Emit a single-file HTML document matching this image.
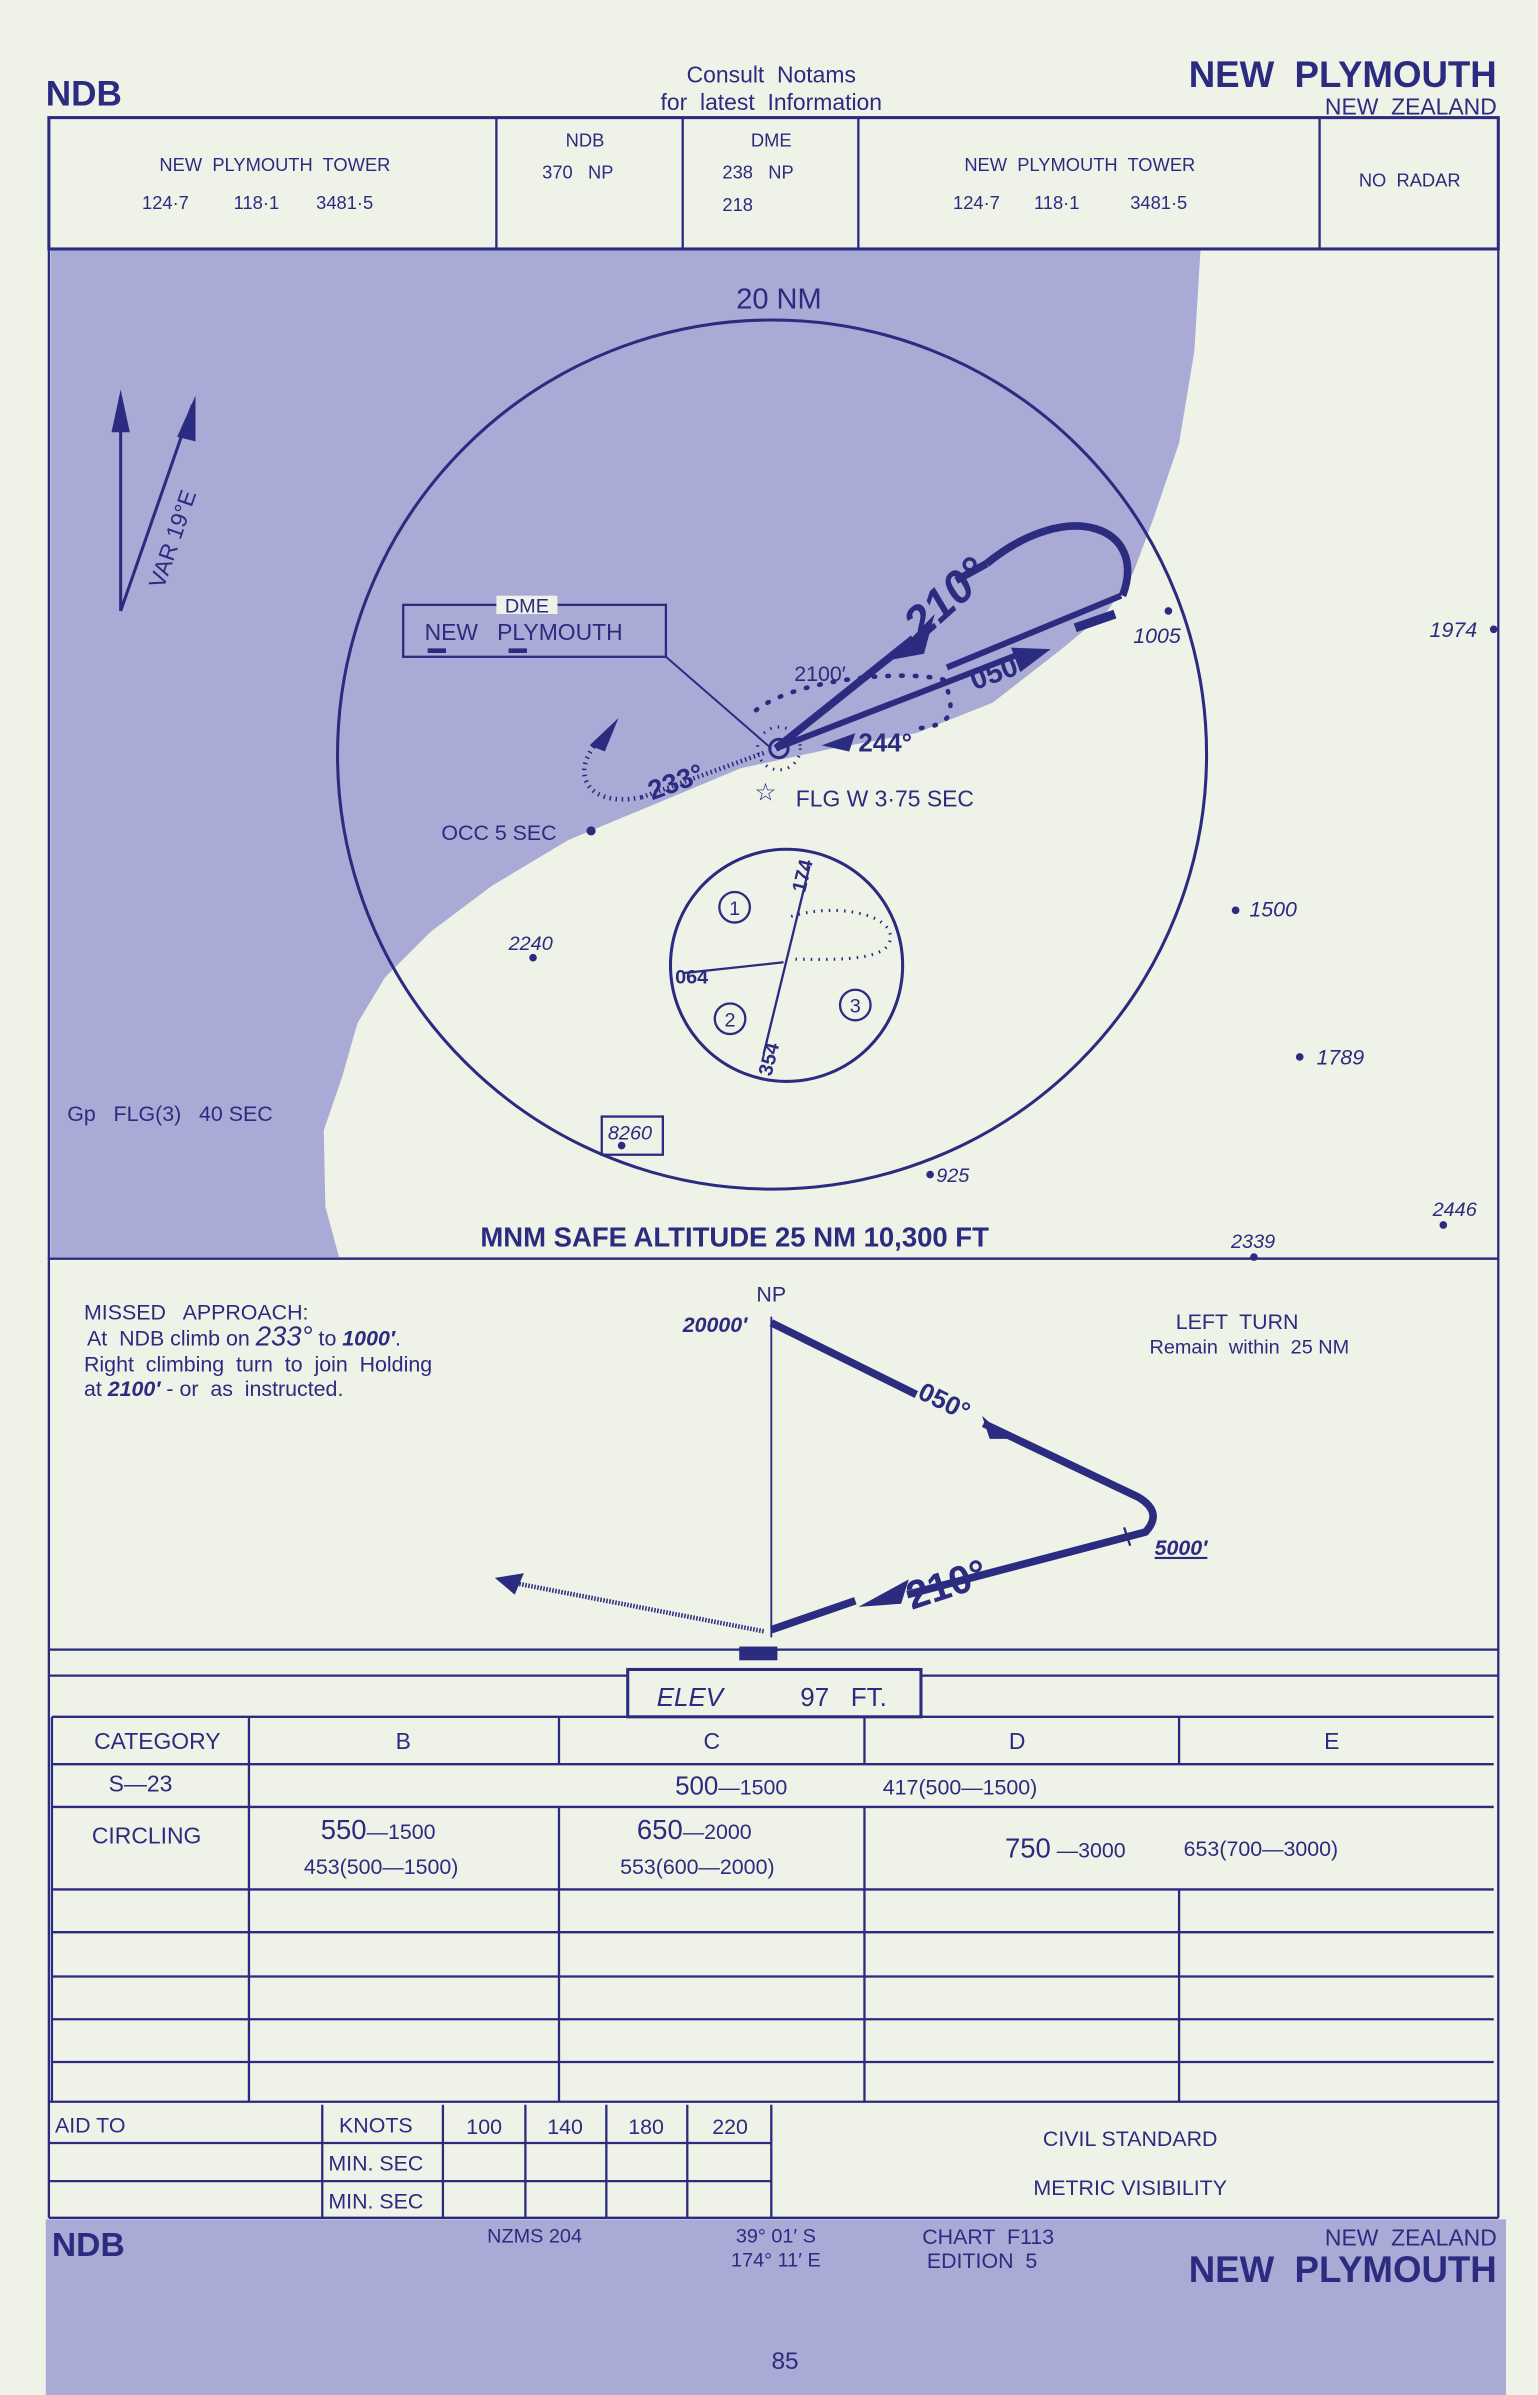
<!DOCTYPE html>
<html><head><meta charset="utf-8"><style>
html,body{margin:0;padding:0;background:#eff2e6}
svg{display:block}
text{font-family:"Liberation Sans",sans-serif;fill:#2b2b80;white-space:pre}
</style></head><body>
<svg width="1538" height="2395" viewBox="0 0 1007 1568" preserveAspectRatio="none" xmlns="http://www.w3.org/2000/svg" xml:space="preserve">
<rect width="1007" height="1568" fill="#eff2e6"/>
<g stroke="#2b2b80" fill="none">
<text x="30" y="69" font-size="23" font-weight="bold" stroke="none">NDB</text>
<text x="505" y="54" font-size="15" text-anchor="middle" stroke="none">Consult  Notams</text>
<text x="505" y="72" font-size="15" text-anchor="middle" stroke="none">for  latest  Information</text>
<text x="980" y="57" font-size="24" font-weight="bold" text-anchor="end" stroke="none">NEW  PLYMOUTH</text>
<text x="980" y="75" font-size="15" text-anchor="end" stroke="none">NEW  ZEALAND</text>
<rect x="32" y="77" width="949" height="86" stroke-width="2"/>
<path d="M325 77V163M447 77V163M562 77V163M864 77V163" stroke-width="1.5"/>
<g stroke="none" font-size="12">
<text x="180" y="112" text-anchor="middle">NEW  PLYMOUTH  TOWER</text>
<text x="93" y="137">124·7</text><text x="153" y="137">118·1</text><text x="207" y="137">3481·5</text>
<text x="383" y="96" text-anchor="middle">NDB</text>
<text x="355" y="117">370   NP</text>
<text x="505" y="96" text-anchor="middle">DME</text>
<text x="473" y="117">238   NP</text><text x="473" y="138">218</text>
<text x="707" y="112" text-anchor="middle">NEW  PLYMOUTH  TOWER</text>
<text x="624" y="137">124·7</text><text x="677" y="137">118·1</text><text x="740" y="137">3481·5</text>
<text x="923" y="122" text-anchor="middle">NO  RADAR</text>
</g>
<rect x="32" y="163" width="949" height="661" stroke-width="1.5"/>
<polygon fill="#aaaad6" stroke="none" points="33,164 786,164 782,230 772,290 755,340 742,375 725,400 695,425 650,460 600,480 545,490 485,503 425,528 372,550 322,580 282,610 252,640 234,670 224,705 212,740 213,790 222,823 33,823"/>
<circle cx="505.5" cy="494" r="284.5" stroke-width="2"/>
<text x="510" y="202" font-size="19" text-anchor="middle" stroke="none">20 NM</text>
<path d="M79 400V265M79 400L126 265" stroke-width="2"/>
<polygon points="79,255 73,283 85,283" fill="#2b2b80" stroke="none"/>
<polygon points="128,259 116,286 128,289" fill="#2b2b80" stroke="none"/>
<text x="0" y="0" font-size="15" stroke="none" transform="translate(107,386) rotate(-71)">VAR 19°E</text>
<rect x="264" y="396" width="172" height="34" stroke-width="1.5"/>
<rect x="325" y="390" width="40" height="12" fill="#eff2e6" stroke="none"/>
<text x="345" y="401" font-size="13" text-anchor="middle" stroke="none">DME</text>
<text x="278" y="419" font-size="15" stroke="none">NEW   PLYMOUTH</text>
<path d="M280 426h12M333 426h12" stroke-width="3"/>
<path d="M436 430L505 490" stroke-width="1.3"/>
<path d="M508 490L598 418" stroke-width="5"/>
<polygon points="583,432 612,402 605,428" fill="#2b2b80" stroke="none"/>
<path d="M508 490L668 428M620 437L734 390" stroke-width="4"/>
<path d="M704 411L730 402" stroke-width="6"/>
<path d="M646 369C700 325 752 345 735 390" stroke-width="5"/>
<path d="M646 369L626 380" stroke-width="5"/>
<polygon points="688,425 662,424 668,440" fill="#2b2b80" stroke="none"/>
<text x="0" y="0" font-size="30" font-weight="bold" font-style="italic" stroke="none" transform="translate(603,420) rotate(-42)">210°</text>
<text x="0" y="0" font-size="19" font-weight="bold" stroke="none" transform="translate(638,452) rotate(-20)">050°</text>
<text x="520" y="446" font-size="14" stroke="none">2100′</text>
<path d="M495 465C520 445 590 438 618 445 C628 470 620 475 600 477" stroke-width="3" stroke-dasharray="1 8" stroke-linecap="round"/>
<circle cx="510" cy="490" r="6" stroke-width="2"/>
<circle cx="510" cy="490" r="14" stroke-width="2" stroke-dasharray="1 4"/>
<polygon points="538,488 560,480 556,492" fill="#2b2b80" stroke="none"/>
<text x="562" y="492" font-size="17" font-weight="bold" stroke="none">244°</text>
<path d="M500 493L420 522" stroke-width="3" stroke-dasharray="1 2"/>
<path d="M420 522C380 530 370 500 400 478" stroke-width="3" stroke-dasharray="1 3"/>
<polygon points="405,470 386,488 396,492" fill="#2b2b80" stroke="none"/>
<text x="0" y="0" font-size="18" font-weight="bold" stroke="none" transform="translate(427,524) rotate(-20)">233°</text>
<text x="494" y="524" font-size="16" stroke="none">☆</text>
<text x="521" y="528" font-size="15" stroke="none">FLG W 3·75 SEC</text>
<circle cx="387" cy="544" r="3" fill="#2b2b80" stroke="none"/>
<text x="289" y="550" font-size="14" stroke="none">OCC 5 SEC</text>
<text x="742" y="421" font-size="14" font-style="italic" stroke="none">1005</text>
<circle cx="765" cy="400" r="2.5" fill="#2b2b80" stroke="none"/>
<text x="936" y="417" font-size="14" font-style="italic" stroke="none">1974</text>
<circle cx="978" cy="412" r="2.5" fill="#2b2b80" stroke="none"/>
<text x="333" y="622" font-size="13" font-style="italic" stroke="none">2240</text>
<circle cx="349" cy="627" r="2.5" fill="#2b2b80" stroke="none"/>
<text x="818" y="600" font-size="14" font-style="italic" stroke="none">1500</text>
<circle cx="809" cy="596" r="2.5" fill="#2b2b80" stroke="none"/>
<text x="862" y="697" font-size="14" font-style="italic" stroke="none">1789</text>
<circle cx="851" cy="692" r="2.5" fill="#2b2b80" stroke="none"/>
<text x="938" y="796" font-size="13" font-style="italic" stroke="none">2446</text>
<circle cx="945" cy="802" r="2.5" fill="#2b2b80" stroke="none"/>
<text x="806" y="817" font-size="13" font-style="italic" stroke="none">2339</text>
<circle cx="821" cy="823" r="2.5" fill="#2b2b80" stroke="none"/>
<text x="613" y="774" font-size="13" font-style="italic" stroke="none">925</text>
<circle cx="609" cy="769" r="2.5" fill="#2b2b80" stroke="none"/>
<rect x="394" y="731" width="40" height="25" stroke-width="1.5"/>
<text x="398" y="746" font-size="13" font-style="italic" stroke="none">8260</text>
<circle cx="407" cy="750" r="2.5" fill="#2b2b80" stroke="none"/>
<text x="44" y="734" font-size="14" stroke="none">Gp   FLG(3)   40 SEC</text>
<text x="481" y="816" font-size="18" font-weight="bold" text-anchor="middle" stroke="none">MNM SAFE ALTITUDE 25 NM 10,300 FT</text>
<circle cx="515" cy="632" r="76" stroke-width="2"/>
<path d="M530 567L500 690" stroke-width="1.5"/>
<path d="M448 637L513 630" stroke-width="1.5"/>
<path d="M518 600C550 590 590 600 582 618C575 630 540 628 520 628" stroke-width="2" stroke-dasharray="1 4"/>
<circle cx="481" cy="594" r="10" stroke-width="1.5"/><text x="481" y="599" font-size="13" text-anchor="middle" stroke="none">1</text>
<circle cx="478" cy="667" r="10" stroke-width="1.5"/><text x="478" y="672" font-size="13" text-anchor="middle" stroke="none">2</text>
<circle cx="560" cy="658" r="10" stroke-width="1.5"/><text x="560" y="663" font-size="13" text-anchor="middle" stroke="none">3</text>
<text x="442" y="644" font-size="13" font-weight="bold" stroke="none">064</text>
<text x="0" y="0" font-size="13" font-weight="bold" stroke="none" transform="translate(527,585) rotate(-76)">174</text>
<text x="0" y="0" font-size="13" font-weight="bold" stroke="none" transform="translate(505,705) rotate(-76)">354</text>
<rect x="32" y="824" width="949" height="256" stroke-width="1.5"/>
<g stroke="none" font-size="14">
<text x="55" y="864">MISSED   APPROACH:</text>
<text x="57" y="881">At  NDB climb on <tspan font-size="18" font-style="italic">233°</tspan> to <tspan font-style="italic" font-weight="bold">1000′</tspan>.</text>
<text x="55" y="898">Right  climbing  turn  to  join  Holding</text>
<text x="55" y="914">at <tspan font-style="italic" font-weight="bold">2100′</tspan> - or  as  instructed.</text>
<text x="810" y="870" text-anchor="middle">LEFT  TURN</text>
<text x="818" y="886" text-anchor="middle" font-size="13">Remain  within  25 NM</text>
<text x="505" y="852" text-anchor="middle">NP</text>
<text x="447" y="872" font-style="italic" font-weight="bold">20000′</text>
<text x="756" y="1018" font-style="italic" font-weight="bold" text-decoration="underline">5000′</text>
</g>
<path d="M505 862V1072" stroke-width="1.2"/>
<path d="M505 866L600 913M644 932L745 980Q762 990 750 1003L594 1044" stroke-width="5"/>
<polygon points="660,942 643,927 648,942" fill="#2b2b80" stroke="none"/>
<text x="0" y="0" font-size="17" font-weight="bold" stroke="none" transform="translate(600,915) rotate(26)">050°</text>
<path d="M736 1000L740 1012" stroke-width="1.5"/>
<path d="M505 1067L560 1048" stroke-width="5"/>
<polygon points="562,1052 595,1034 590,1050" fill="#2b2b80" stroke="none"/>
<text x="0" y="0" font-size="26" font-weight="bold" stroke="none" transform="translate(597,1054) rotate(-18)">210°</text>
<path d="M500 1068L340 1037" stroke-width="3" stroke-dasharray="1 1"/>
<polygon points="324,1033 343,1030 337,1044" fill="#2b2b80" stroke="none"/>
<rect x="484" y="1078" width="25" height="9" fill="#2b2b80" stroke="none"/>
<path d="M32 1097H411M603 1097H981M32 1080V1452M981 1080V1452" stroke-width="1.5"/>
<rect x="411" y="1093" width="192" height="31" stroke-width="2"/>
<text x="430" y="1117" font-size="17" font-style="italic" stroke="none">ELEV</text>
<text x="524" y="1117" font-size="17" stroke="none">97   FT.</text>
<path d="M34 1124H978M34 1155H978M34 1183H978M34 1237H978M34 1265H978M34 1294H978M34 1322H978M34 1350H978M32 1376H981" stroke-width="1.5"/>
<path d="M34 1124V1376M163 1124V1376M366 1124V1155M566 1124V1155M772 1124V1155M366 1183V1376M566 1183V1376M772 1237V1376" stroke-width="1.5"/>
<g stroke="none" font-size="15">
<text x="103" y="1145" text-anchor="middle">CATEGORY</text>
<text x="264" y="1145" text-anchor="middle">B</text>
<text x="466" y="1145" text-anchor="middle">C</text>
<text x="666" y="1145" text-anchor="middle">D</text>
<text x="872" y="1145" text-anchor="middle">E</text>
<text x="92" y="1173" text-anchor="middle">S—23</text>
<text x="442" y="1175" font-size="17">500<tspan font-size="14">—1500</tspan></text>
<text x="578" y="1175" font-size="14">417(500—1500)</text>
<text x="96" y="1207" text-anchor="middle">CIRCLING</text>
<text x="210" y="1204" font-size="18">550<tspan font-size="14">—1500</tspan></text>
<text x="199" y="1227" font-size="14">453(500—1500)</text>
<text x="417" y="1204" font-size="18">650<tspan font-size="14">—2000</tspan></text>
<text x="406" y="1227" font-size="14">553(600—2000)</text>
<text x="658" y="1216" font-size="18">750<tspan font-size="14"> —3000</tspan></text>
<text x="775" y="1215" font-size="14">653(700—3000)</text>
</g>
<path d="M32 1403H505M32 1428H505M32 1452H981M211 1378V1452M290 1378V1452M344 1378V1452M397 1378V1452M450 1378V1452M505 1378V1452" stroke-width="1.5"/>
<g stroke="none" font-size="14">
<text x="36" y="1396">AID TO</text>
<text x="222" y="1396">KNOTS</text>
<text x="317" y="1397" text-anchor="middle">100</text>
<text x="370" y="1397" text-anchor="middle">140</text>
<text x="423" y="1397" text-anchor="middle">180</text>
<text x="478" y="1397" text-anchor="middle">220</text>
<text x="215" y="1421">MIN. SEC</text>
<text x="215" y="1446">MIN. SEC</text>
<text x="740" y="1405" text-anchor="middle">CIVIL STANDARD</text>
<text x="740" y="1437" text-anchor="middle">METRIC VISIBILITY</text>
</g>
</g>
<rect x="30" y="1453" width="956" height="115" fill="#aaaad6"/>
<g font-size="13">
<text x="34" y="1477" font-size="22" font-weight="bold">NDB</text>
<text x="350" y="1468" text-anchor="middle">NZMS 204</text>
<text x="508" y="1468" text-anchor="middle">39° 01′ S</text>
<text x="508" y="1484" text-anchor="middle">174° 11′ E</text>
<text x="647" y="1469" text-anchor="middle" font-size="14">CHART  F113</text>
<text x="643" y="1485" text-anchor="middle" font-size="14">EDITION  5</text>
<text x="980" y="1470" text-anchor="end" font-size="15">NEW  ZEALAND</text>
<text x="980" y="1494" text-anchor="end" font-size="24" font-weight="bold">NEW  PLYMOUTH</text>
<text x="514" y="1551" text-anchor="middle" font-size="16">85</text>
</g>
</svg>
</body></html>
